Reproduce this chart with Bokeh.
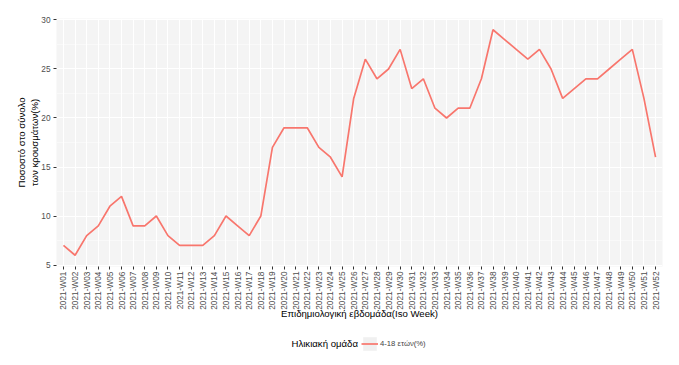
import numpy as np
from bokeh.plotting import figure
from bokeh.layouts import column
from bokeh.models import Range1d, FixedTicker, Legend, LegendItem, ColumnDataSource, Label
from bokeh.embed import file_html
from bokeh.resources import INLINE

# ---- data ----
weeks = ["2021-W%02d" % i for i in range(1, 53)]
pct_4_18 = [7, 6, 8, 9, 11, 12, 9, 9, 10, 8,
            7, 7, 7, 8, 10, 9, 8, 10, 17, 19,
            19, 19, 17, 16, 14, 22, 26, 24, 25, 27,
            23, 24, 21, 20, 21, 21, 24, 29, 28, 27,
            26, 27, 25, 22, 23, 24, 24, 25, 26, 27,
            22, 16]
y_ticks = [5, 10, 15, 20, 25, 30]
y_minor = [7.5, 12.5, 17.5, 22.5, 27.5]
series_label = "4-18 ετών(%)"
legend_title = "Ηλικιακή ομάδα"
x_title = "Επιδημιολογική εβδομάδα(Iso Week)"
y_title = "Ποσοστό στο σύνολο\nτων κρουσμάτων(%)"

xpos = list(range(1, len(weeks) + 1))
src = ColumnDataSource(dict(x=xpos, y=pct_4_18, week=weeks))

FONT = "Liberation Sans"
RED = "#F8766D"
W = 679
LEFT, RIGHT = 56, 17

p = figure(width=W, height=328, output_backend="svg", toolbar_location=None,
           x_range=Range1d(0.4, len(weeks) + 0.6), y_range=Range1d(4.85, 30.15),
           min_border_left=LEFT, min_border_right=RIGHT, min_border_top=18, min_border_bottom=62)
p.outline_line_color = None
p.background_fill_color = "#f4f4f4"
p.border_fill_color = "white"

p.line("x", "y", source=src, line_color=RED, line_width=1.7)

# axes
p.xaxis.ticker = FixedTicker(ticks=xpos)
p.xaxis.major_label_overrides = {i: w for i, w in zip(xpos, weeks)}
p.xaxis.major_label_orientation = np.pi / 2
p.yaxis.ticker = FixedTicker(ticks=y_ticks, minor_ticks=y_minor)

for ax in (p.xaxis[0], p.yaxis[0]):
    ax.axis_line_color = None
    ax.major_tick_line_color = "#333333"
    ax.major_tick_out = 3
    ax.major_tick_in = 0
    ax.minor_tick_line_color = None
    ax.major_label_text_font = FONT
    ax.major_label_text_font_size = "8.3px"
    ax.major_label_text_color = "#4d4d4d"
    ax.major_label_standoff = 2
    ax.axis_label_text_font = FONT
    ax.axis_label_text_font_size = "9.6px"
    ax.axis_label_text_font_style = "normal"
    ax.axis_label_text_color = "black"

p.xaxis.axis_label = x_title
p.yaxis.axis_label = y_title
p.xaxis.axis_label_standoff = -5
p.yaxis.axis_label_standoff = -2
p.yaxis.axis_label_text_line_height = 1.25

# grids
p.xgrid.grid_line_color = "white"
p.xgrid.grid_line_width = 1.0
p.ygrid.grid_line_color = "white"
p.ygrid.grid_line_width = 1.1
p.ygrid.minor_grid_line_color = "white"
p.ygrid.minor_grid_line_width = 0.5

# ---- legend strip below the chart ----
lg = figure(width=W, height=37, output_backend="svg", toolbar_location=None,
            x_range=Range1d(0, 1), y_range=Range1d(0, 1),
            min_border_left=LEFT, min_border_right=RIGHT, min_border_top=0, min_border_bottom=0)
lg.axis.visible = False
lg.grid.visible = False
lg.outline_line_color = None
lg.background_fill_color = "white"
# key renderers reuse the series data, which lies outside this strip's (0..1) ranges
key_bg = lg.rect(x="x", y="y", source=src, width=1, height=1, fill_color="#f0f0f0", line_color=None)
key_line = lg.line(x="x", y="y", source=src, line_color=RED, line_width=1.7)

legend = Legend(items=[LegendItem(label=series_label, renderers=[key_bg, key_line])],
                orientation="horizontal", location=(361 - LEFT, 13))
legend.label_text_font = FONT
legend.label_text_font_size = "7.7px"
legend.glyph_width = 17
legend.glyph_height = 17
legend.label_height = 17
legend.border_line_color = None
legend.background_fill_alpha = 0
legend.margin = 0
legend.padding = 4
legend.label_standoff = 2
lg.add_layout(legend, "center")

lg.add_layout(Label(x=291 - LEFT, y=22, x_units="screen", y_units="screen", text=legend_title,
                    text_font=FONT, text_font_size="9.6px", text_baseline="middle",
                    text_align="left", text_color="black"))

layout = column(p, lg, spacing=0)
open("out.html", "w").write(file_html(layout, INLINE))
